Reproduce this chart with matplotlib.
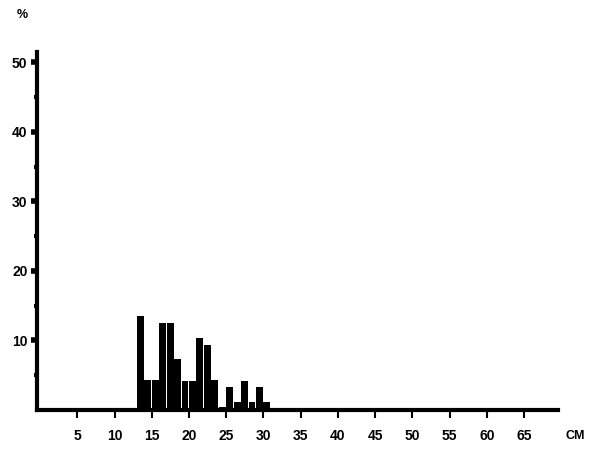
import matplotlib
matplotlib.use('Agg')
import matplotlib.pyplot as plt
import numpy as np

# percentage of specimens per 1 cm length class
bin_left = [13, 14, 15, 16, 17, 18, 19, 20, 21, 22, 23, 24, 25, 26, 27, 28, 29, 30]
percent = [13.5, 4.3, 4.3, 12.5, 12.5, 7.3, 4.2, 4.2, 10.4, 9.4, 4.3, 0.4,
           3.3, 1.2, 4.2, 1.2, 3.3, 1.2]

x_ticks = list(range(5, 70, 5))
y_major = [10, 20, 30, 40, 50]
y_minor = [5, 15, 25, 35, 45]

plt.rcParams['font.family'] = ['Liberation Sans', 'DejaVu Sans']

fig = plt.figure(figsize=(5.99, 4.51), dpi=100)
ax = fig.add_axes([0.062, 0.091, 0.870, 0.794])

ax.bar(bin_left, percent, width=0.92, align='edge', color='black', edgecolor='black', linewidth=0)

ax.set_xlim(-0.4, 69.6)
ax.set_ylim(0, 51.5)

for s in ['top', 'right']:
    ax.spines[s].set_visible(False)
ax.spines['left'].set_linewidth(3)
ax.spines['bottom'].set_linewidth(3)

ax.set_xticks(x_ticks)
ax.set_xticklabels([str(v) for v in x_ticks], fontsize=10, fontweight='bold')
ax.tick_params(axis='x', direction='out', length=6, width=1.5, pad=8)

ax.set_yticks(y_major)
ax.set_yticklabels([str(v) for v in y_major], fontsize=10, fontweight='bold')
ax.set_yticks(y_minor, minor=True)
ax.tick_params(axis='y', which='major', direction='out', length=4, width=4, pad=3)
ax.tick_params(axis='y', which='minor', direction='out', length=2, width=3)

ax.text(71.9, -3.7, 'CM', fontsize=9, fontweight='bold', ha='center', va='center', clip_on=False)
fig.text(0.037, 0.967, '%', fontsize=9, fontweight='bold', ha='center', va='center')

fig.savefig('out.png', dpi=100, facecolor='white')
